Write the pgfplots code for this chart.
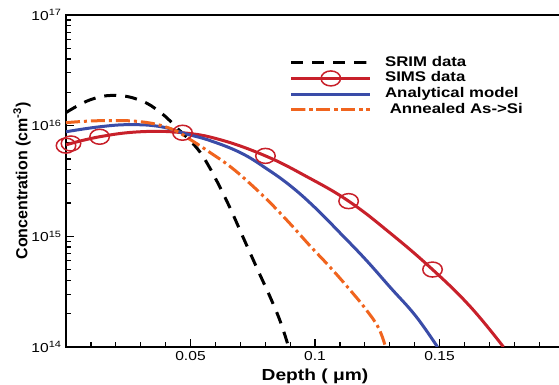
\documentclass[border=0pt]{standalone}
\usepackage{fontspec}
\setmainfont{Liberation Sans}[FakeStretch=1.2]
\newfontfamily\plainsans{Liberation Sans}
\usepackage{pgfplots}
\pgfplotsset{compat=1.18}
\definecolor{simsred}{RGB}{200,32,42}
\definecolor{anablue}{RGB}{58,76,168}
\definecolor{annorange}{RGB}{240,100,30}

\pgfplotstableread{
x y
0.000 1.312e16
0.010 1.722e16
0.020 1.875e16
0.030 1.687e16
0.038 1.312e16
0.045 9.33e15
0.0528 6.18e15
0.0580 4.06e15
0.0612 2.97e15
0.0661 1.76e15
0.0713 9.6e14
0.0773 4.81e14
0.0821 2.79e14
0.0861 1.69e14
0.0894 1.0e14
}\srim

\pgfplotstableread{
x y
0.000 6.71e15
0.0135 7.94e15
0.030 8.81e15
0.0468 8.63e15
0.062 7.46e15
0.0801 5.33e15
0.0962 3.51e15
0.1135 2.08e15
0.1303 1.065e15
0.1472 5.01e14
0.1624 2.31e14
0.1757 1.0e14
}\sims

\pgfplotstableread{
x y
0.000 6.6e15
0.002 6.9e15
0.0135 7.94e15
0.0468 8.63e15
0.0801 5.33e15
0.1135 2.08e15
0.1472 5.01e14
}\simsmarks

\pgfplotstableread{
x y
0.000 8.81e15
0.0139 9.79e15
0.0259 1.021e16
0.038 9.79e15
0.048 8.45e15
0.058 7.31e15
0.0701 5.69e15
0.0801 4.15e15
0.0902 2.85e15
0.1002 1.80e15
0.1102 1.065e15
0.1203 6.18e14
0.1303 3.44e14
0.1404 1.91e14
0.1492 1.0e14
}\model

\pgfplotstableread{
x y
0.000 1.064e16
0.0139 1.109e16
0.0299 1.086e16
0.042 9.4e15
0.050 7.46e15
0.058 5.69e15
0.0661 4.24e15
0.0741 2.97e15
0.0821 2.0e15
0.0902 1.285e15
0.0982 8.11e14
0.1062 5.22e14
0.1143 3.23e14
0.1203 2.21e14
0.1255 1.49e14
0.1283 1.0e14
}\annealed

\begin{document}
\begin{tikzpicture}
\begin{axis}[name=ax, at={(0,0)}, anchor=south west,
  width=498pt, height=332pt, scale only axis,
  xmin=0, xmax=0.2, ymode=log, ymin=1e14, ymax=1e17,
  xtick={0.05,0.1,0.15}, xticklabels={0.05,0.1,0.15},
  minor xtick={0.01,0.02,0.03,0.04,0.06,0.07,0.08,0.09,0.11,0.12,0.13,0.14,0.16,0.17,0.18,0.19},
  ytick={1e14,1e15,1e16,1e17},
  yticklabels={10\textsuperscript{14},10\textsuperscript{15},10\textsuperscript{16},10\textsuperscript{17}},
  xtick pos=bottom, ytick pos=left, tick align=inside,
  major tick length=8pt, minor tick length=4.5pt,
  every tick/.style={black, line width=1.2pt},
  axis line style={line width=2pt},
  ticklabel style={font=\fontsize{13}{13}\selectfont},
  xticklabel style={yshift=-1pt},
  yticklabel style={xshift=-1pt},
  xlabel={Depth ( μm)},
  xlabel style={font=\bfseries\fontsize{16}{16}\selectfont, at={(axis description cs:0.5,-0.0873)}, anchor=center},
  ylabel={Concentration (cm\textsuperscript{-3})},
  ylabel style={font=\plainsans\bfseries\fontsize{16}{16}\selectfont, at={(axis description cs:-0.0884,0.5)}, anchor=center},
  legend style={at={(axis description cs:0.443,0.886)}, anchor=north west, draw=none, fill=none,
    font=\bfseries\fontsize{14}{14}\selectfont,
    nodes={text height=10pt, text depth=3pt, inner sep=1.3pt}, row sep=0pt, column sep=12pt},
  legend cell align=left,
  legend image code/.code={\draw[mark repeat=2,mark phase=2] plot coordinates {(0pt,0pt) (39.5pt,0pt) (79pt,0pt)};},
]
\addplot[black, line width=3pt, dash pattern=on 12pt off 9pt, smooth, tension=0.7] table {\srim};
\addlegendentry{SRIM data}
\addplot[simsred, line width=3pt, smooth, tension=0.7, forget plot] table {\sims};
\addplot[simsred, only marks, mark=o, mark size=7.5pt, mark options={xscale=1.3, line width=1.5pt}, forget plot] table {\simsmarks};
\addlegendimage{simsred, line width=3pt, mark=o, mark size=7.5pt, mark options={xscale=1.3, line width=1.5pt}}
\addlegendentry{SIMS data}
\addplot[anablue, line width=3pt, smooth, tension=0.7] table {\model};
\addlegendentry{Analytical model}
\addplot[annorange, line width=3pt, dash pattern=on 14pt off 4pt on 3pt off 4pt, smooth, tension=0.7] table {\annealed};
\addlegendentry{\ Annealed As->Si}
\end{axis}
\pgfresetboundingbox
\path[use as bounding box] (-66pt,-37pt) rectangle (493pt,347pt);
\end{tikzpicture}
\end{document}
